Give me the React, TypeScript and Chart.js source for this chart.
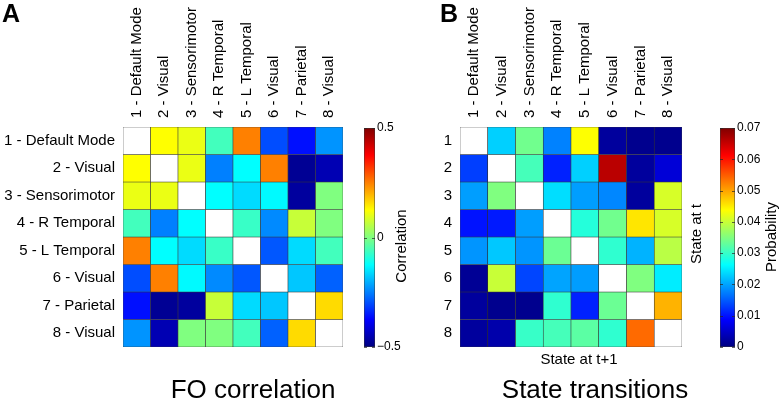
import React, { useEffect, useRef } from "react";
import { Chart, registerables } from "chart.js";

Chart.register(...registerables);

// ---------- data ----------
const networkLabels = [
  "1 - Default Mode",
  "2 - Visual",
  "3 - Sensorimotor",
  "4 - R Temporal",
  "5 - L Temporal",
  "6 - Visual",
  "7 - Parietal",
  "8 - Visual",
];
const stateLabels = ["1", "2", "3", "4", "5", "6", "7", "8"];

// FO correlation (rows x cols), diagonal empty
const foCorrelation: (number | null)[][] = [
  [null, 0.125, 0.105, -0.06, 0.25, -0.3, -0.36, -0.23],
  [0.125, null, 0.105, -0.25, -0.125, 0.25, -0.48, -0.45],
  [0.105, 0.105, null, -0.125, -0.16, -0.13, -0.47, 0.0],
  [-0.06, -0.25, -0.125, null, -0.07, -0.24, 0.07, 0.0],
  [0.25, -0.125, -0.16, -0.07, null, -0.29, -0.16, -0.06],
  [-0.3, 0.25, -0.13, -0.24, -0.29, null, -0.18, -0.28],
  [-0.36, -0.48, -0.47, 0.07, -0.16, -0.18, null, 0.16],
  [-0.23, -0.45, 0.0, 0.0, -0.06, -0.28, 0.16, null],
];

// State transition probabilities (row = state at t, col = state at t+1)
const transitionProb: (number | null)[][] = [
  [null, 0.023, 0.034, 0.0177, 0.0437, 0.002, 0.001, 0.001],
  [0.013, null, 0.031, 0.011, 0.023, 0.066, 0.002, 0.006],
  [0.0196, 0.035, null, 0.024, 0.0196, 0.018, 0.002, 0.041],
  [0.01, 0.0105, 0.0196, null, 0.0287, 0.034, 0.0455, 0.041],
  [0.019, 0.0225, 0.019, 0.0336, null, 0.0295, 0.021, 0.039],
  [0.0015, 0.04, 0.0135, 0.02, 0.0195, null, 0.035, 0.025],
  [0.002, 0.001, 0.001, 0.0295, 0.011, 0.0336, null, 0.049],
  [0.002, 0.003, 0.03, 0.031, 0.0325, 0.0295, 0.054, null],
];

const corrRange = [-0.5, 0.5];
const corrTicks = [-0.5, 0, 0.5];
const probRange = [0, 0.07];
const probTicks = [0, 0.01, 0.02, 0.03, 0.04, 0.05, 0.06, 0.07];

// ---------- helpers ----------
const FONT = "'Liberation Sans', Arial, sans-serif";

function clamp01(v: number) {
  return Math.max(0, Math.min(1, v));
}
function jet(t: number) {
  const r = clamp01(Math.min(4 * t - 1.5, -4 * t + 4.5));
  const g = clamp01(Math.min(4 * t - 0.5, -4 * t + 3.5));
  const b = clamp01(Math.min(4 * t + 0.5, -4 * t + 2.5));
  return `rgb(${Math.round(r * 255)},${Math.round(g * 255)},${Math.round(b * 255)})`;
}

type TextItem = {
  text: string;
  x: number;
  y: number;
  font: string;
  rotate?: boolean;
  align?: CanvasTextAlign;
  baseline?: CanvasTextBaseline;
};

const textPlugin = {
  id: "extraTexts",
  afterDraw(chart: any) {
    const items: TextItem[] = chart.options.plugins.extraTexts?.items || [];
    const ctx = chart.ctx;
    items.forEach((it) => {
      ctx.save();
      ctx.fillStyle = "#000";
      ctx.font = it.font;
      ctx.textAlign = it.align || "center";
      ctx.textBaseline = it.baseline || "middle";
      ctx.translate(it.x, it.y);
      if (it.rotate) ctx.rotate(-Math.PI / 2);
      ctx.fillText(it.text, 0, 0);
      ctx.restore();
    });
  },
};

// small inward tick marks on the colorbar edges
const cbTickPlugin = {
  id: "cbTicks",
  afterDatasetsDraw(chart: any) {
    const s = chart.scales.y;
    const area = chart.chartArea;
    const ctx = chart.ctx;
    ctx.save();
    ctx.strokeStyle = "rgba(40,40,40,0.9)";
    ctx.lineWidth = 0.8;
    s.ticks.forEach((t: any) => {
      const y = Math.round(s.getPixelForValue(t.value)) + 0.5;
      ctx.beginPath();
      ctx.moveTo(area.left, y);
      ctx.lineTo(area.left + 3, y);
      ctx.moveTo(area.right, y);
      ctx.lineTo(area.right - 3, y);
      ctx.stroke();
    });
    ctx.restore();
  },
};

function heatmapConfig(
  matrix: (number | null)[][],
  colLabels: string[],
  rowLabels: string[],
  range: number[],
  rowAxisWidth: number,
  colAxisHeight: number,
  padRight: number,
  padBottom: number,
  texts: TextItem[]
): any {
  const [vmin, vmax] = range;
  return {
    type: "bar",
    data: {
      labels: colLabels,
      datasets: matrix.map((row, i) => ({
        label: rowLabels[i],
        data: colLabels.map(() => 1),
        backgroundColor: row.map((v) =>
          v == null ? "#ffffff" : jet((v - vmin) / (vmax - vmin))
        ),
        borderColor: "rgba(35,35,35,0.9)",
        borderWidth: 0.6,
        borderSkipped: false,
        barPercentage: 1,
        categoryPercentage: 1,
        xAxisID: "x",
        yAxisID: "y",
      })),
    },
    options: {
      responsive: false,
      animation: false,
      events: [],
      layout: { padding: { left: 0, top: 0, right: padRight, bottom: padBottom } },
      plugins: {
        legend: { display: false },
        tooltip: { enabled: false },
        extraTexts: { items: texts },
      },
      scales: {
        x: {
          type: "category",
          position: "top",
          stacked: true,
          grid: { display: false, drawTicks: false },
          border: { display: false },
          ticks: {
            minRotation: 90,
            maxRotation: 90,
            autoSkip: false,
            padding: 9,
            labelOffset: 18,
            color: "#000",
            font: { size: 15, family: FONT },
          },
          afterFit: (s: any) => {
            s.height = colAxisHeight;
          },
        },
        y: {
          type: "linear",
          stacked: true,
          min: 0,
          max: rowLabels.length,
          reverse: true,
          display: false,
        },
        rows: {
          type: "category",
          labels: rowLabels,
          position: "left",
          offset: true,
          grid: { display: false, drawTicks: false },
          border: { display: false },
          ticks: {
            autoSkip: false,
            padding: 8,
            color: "#000",
            font: { size: 15, family: FONT },
          },
          afterFit: (s: any) => {
            s.width = rowAxisWidth;
          },
        },
      },
    },
    plugins: [textPlugin],
  };
}

function colorbarConfig(
  range: number[],
  tickVals: number[],
  fmt: (v: number) => string,
  axisWidth: number,
  texts: TextItem[]
): any {
  const [vmin, vmax] = range;
  return {
    type: "bar",
    data: {
      labels: [""],
      datasets: [
        {
          data: [[vmin, vmax]],
          backgroundColor: (c: any) => {
            const chart = c.chart;
            const area = chart.chartArea;
            if (!area) return "rgba(0,0,0,0)";
            const g = chart.ctx.createLinearGradient(0, area.bottom, 0, area.top);
            for (let i = 0; i <= 32; i++) {
              g.addColorStop(i / 32, jet(i / 32));
            }
            return g;
          },
          borderColor: "rgba(35,35,35,0.9)",
          borderWidth: 0.8,
          borderSkipped: false,
          barPercentage: 1,
          categoryPercentage: 1,
        },
      ],
    },
    options: {
      responsive: false,
      animation: false,
      events: [],
      layout: { padding: { left: 8, top: 10, right: 0, bottom: 11 } },
      plugins: {
        legend: { display: false },
        tooltip: { enabled: false },
        extraTexts: { items: texts },
      },
      scales: {
        x: { display: false },
        y: {
          position: "right",
          min: vmin,
          max: vmax,
          afterBuildTicks: (s: any) => {
            s.ticks = tickVals.map((v) => ({ value: v }));
          },
          grid: { display: false, drawTicks: false },
          border: { display: false },
          ticks: {
            padding: 2,
            color: "#000",
            font: { size: 12, family: FONT },
            callback: (v: any) => fmt(Number(v)),
          },
          afterFit: (s: any) => {
            s.width = axisWidth;
          },
        },
      },
    },
    plugins: [textPlugin, cbTickPlugin],
  };
}

function ChartCanvas({
  config,
  left,
  top,
  width,
  height,
}: {
  config: any;
  left: number;
  top: number;
  width: number;
  height: number;
}) {
  const ref = useRef<HTMLCanvasElement | null>(null);
  useEffect(() => {
    if (!ref.current) return;
    const chart = new Chart(ref.current, config);
    return () => chart.destroy();
  }, [config]);
  return (
    <canvas
      ref={ref}
      width={width}
      height={height}
      style={{ position: "absolute", left, top, width, height }}
    />
  );
}

Chart.defaults.font.family = FONT;
Chart.defaults.color = "#000";

const fmtCorr = (v: number) =>
  v === 0 ? "0" : (v < 0 ? "\u2212" : "") + Math.abs(v).toString();
const fmtProb = (v: number) => (Math.abs(v) < 1e-9 ? "0" : v.toFixed(2));

const configA = heatmapConfig(
  foCorrelation,
  networkLabels,
  networkLabels,
  corrRange,
  123,
  127,
  47,
  59,
  [
    { text: "A", x: 2, y: 22, font: `bold 25px ${FONT}`, align: "left", baseline: "alphabetic" },
    { text: "FO correlation", x: 253, y: 391, font: `26px ${FONT}` },
  ]
);

const configB = heatmapConfig(
  transitionProb,
  networkLabels,
  stateLabels,
  probRange,
  70,
  127,
  100,
  59,
  [
    { text: "B", x: 50, y: 22, font: `bold 25px ${FONT}`, align: "left", baseline: "alphabetic" },
    { text: "State at t+1", x: 189, y: 360, font: `15px ${FONT}` },
    { text: "State transitions", x: 205, y: 391, font: `26px ${FONT}` },
    { text: "State at t", x: 307, y: 234, font: `15px ${FONT}`, rotate: true },
  ]
);

const configCbA = colorbarConfig(corrRange, corrTicks, fmtCorr, 41, [
  { text: "Correlation", x: 46, y: 128, font: `15px ${FONT}`, rotate: true },
]);

const configCbB = colorbarConfig(probRange, probTicks, fmtProb, 47, [
  { text: "Probability", x: 60, y: 119, font: `15px ${FONT}`, rotate: true },
]);

export default function App() {
  return (
    <div
      style={{
        position: "fixed",
        left: 0,
        top: 0,
        width: 782,
        height: 406,
        background: "#fff",
        overflow: "hidden",
      }}
    >
      <ChartCanvas config={configA} left={0} top={0} width={390} height={406} />
      <ChartCanvas config={configB} left={390} top={0} width={392} height={406} />
      <ChartCanvas config={configCbA} left={356} top={118} width={60} height={240} />
      <ChartCanvas config={configCbB} left={712} top={118} width={70} height={240} />
    </div>
  );
}
